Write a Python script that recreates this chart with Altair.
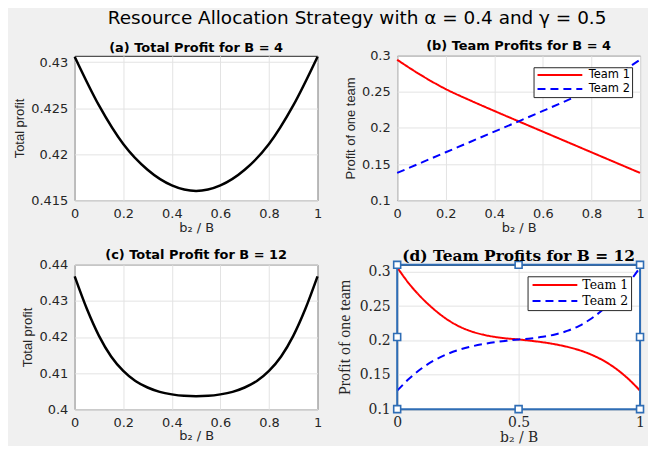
import altair as alt
import pandas as pd

# ---------------- data ----------------
x_coarse = [0.0, 0.1, 0.2, 0.3, 0.4, 0.5, 0.6, 0.7, 0.8, 0.9, 1.0]
total_b4 = [0.4306, 0.4253, 0.4211, 0.4183, 0.4166, 0.4160, 0.4166, 0.4183, 0.4211, 0.4253, 0.4306]
team1_b4 = [0.2945, 0.2728, 0.2539, 0.2383, 0.2236, 0.2092, 0.1949, 0.1806, 0.1663, 0.1520, 0.1377]
team2_b4 = [0.1377, 0.1520, 0.1663, 0.1806, 0.1949, 0.2092, 0.2236, 0.2383, 0.2539, 0.2728, 0.2945]

x_fine = [0.0, 0.05, 0.1, 0.15, 0.2, 0.25, 0.3, 0.35, 0.4, 0.45, 0.5,
          0.55, 0.6, 0.65, 0.7, 0.75, 0.8, 0.85, 0.9, 0.95, 1.0]
total_b12 = [0.4368, 0.4278, 0.4203, 0.4146, 0.4106, 0.4078, 0.4060, 0.4048, 0.4041, 0.4037, 0.4036,
             0.4037, 0.4041, 0.4048, 0.4060, 0.4078, 0.4106, 0.4146, 0.4203, 0.4278, 0.4368]
team1_b12 = [0.3062, 0.2821, 0.2623, 0.2457, 0.2319, 0.2213, 0.2138, 0.2087, 0.2052, 0.2029, 0.2014,
             0.1995, 0.1973, 0.1944, 0.1907, 0.1858, 0.1792, 0.1705, 0.1591, 0.1446, 0.1269]
team2_b12 = [0.1269, 0.1446, 0.1591, 0.1705, 0.1792, 0.1858, 0.1907, 0.1944, 0.1973, 0.1995, 0.2014,
             0.2029, 0.2052, 0.2087, 0.2138, 0.2213, 0.2319, 0.2457, 0.2623, 0.2821, 0.3062]

teams = ["Team 1", "Team 2"]
team_colors = ["#ff0000", "#0000ff"]

x_domain = [0, 1]
x_ticks = [0, 0.2, 0.4, 0.6, 0.8, 1]
x_ticks_d = [0, 0.5, 1]
y_domain_a = [0.415, 0.4307]
y_ticks_a = [0.415, 0.42, 0.425, 0.43]
y_domain_b = [0.1, 0.3]
y_ticks_b = [0.1, 0.15, 0.2, 0.25, 0.3]
y_domain_c = [0.4, 0.44]
y_ticks_c = [0.4, 0.41, 0.42, 0.43, 0.44]
y_domain_d = [0.1, 0.31]
y_ticks_d = [0.1, 0.15, 0.2, 0.25, 0.3]

# selection handles of panel (d): corners and edge midpoints (data coords)
handle_x = [0, 0.5, 1, 0, 1, 0, 0.5, 1]
handle_y = [0.31, 0.31, 0.31, 0.205, 0.205, 0.1, 0.1, 0.1]

# ---------------- styling ----------------
W, H = 244, 145
SANS = "DejaVu Sans"
SERIF = "DejaVu Serif"
INK = "#262626"
GRID = "#e3e3e3"
SEL = "#2f6db5"
NBSP = "\u00a0"


def x_axis(values, font, size, title_size, lpad, tpad):
    return alt.Axis(values=values, format="~g", title="b₂ / B", labelFont=font, labelFontSize=size,
                    titleFont=font, titleFontSize=title_size, titleFontWeight="normal",
                    labelPadding=lpad, titlePadding=tpad, grid=True, gridColor=GRID, ticks=False,
                    domain=False, labelColor=INK, titleColor=INK, labelFlush=False, labelOverlap=False)


def y_axis(values, title, font, size, tfont, tsize, lpad, tpad):
    return alt.Axis(values=values, format="~g", title=title, labelFont=font, labelFontSize=size,
                    titleFont=tfont, titleFontSize=tsize, titleFontWeight="normal",
                    labelPadding=lpad, titlePadding=tpad, grid=True, gridColor=GRID, ticks=False,
                    domain=False, labelColor=INK, titleColor=INK, labelFlush=False, labelOverlap=False)


def sub_title(text, font, size, dy):
    return alt.TitleParams(text=text, font=font, fontSize=size, fontWeight="bold", color="black",
                           anchor="middle", baseline="alphabetic", offset=5, dy=dy)


def team_legend(font, size, lx, ly, pad, rowpad, loff, extra):
    return alt.Legend(title=None, orient="none", legendX=lx, legendY=ly, direction="vertical",
                      fillColor="white", strokeColor=INK, padding=pad, symbolType="M-1,0H11",
                      symbolSize=56.25, symbolStrokeWidth=2, labelFont=font, labelFontSize=size,
                      labelOffset=loff, rowPadding=rowpad, labelColor="black", cornerRadius=0,
                      labelExpr="datum.label + '" + NBSP * extra + "'")


# ---------------- panel (a) ----------------
df_a = pd.DataFrame({"x": x_coarse, "y": total_b4})
panel_a = alt.Chart(df_a).mark_line(color="black", strokeWidth=2.5, interpolate="monotone").encode(
    x=alt.X("x:Q", scale=alt.Scale(domain=x_domain, nice=False), axis=x_axis(x_ticks, SANS, 13, 13, 7, 2)),
    y=alt.Y("y:Q", scale=alt.Scale(domain=y_domain_a, nice=False, zero=False),
            axis=y_axis(y_ticks_a, "Total profit", SANS, 13, "Liberation Sans", 13, 7, 4)),
).properties(width=W, height=H, title=sub_title("(a) Total Profit for B = 4", SANS, 13, 18))

# ---------------- panel (b) ----------------
df_b = pd.DataFrame({"x": x_coarse + x_coarse, "p": team1_b4 + team2_b4,
                     "team": [teams[0]] * len(x_coarse) + [teams[1]] * len(x_coarse)})
leg_b = team_legend(SANS, 11.5, 137, 11.5, 2, 1, 42, 5)
panel_b = alt.Chart(df_b).mark_line(strokeWidth=2, interpolate="monotone").encode(
    x=alt.X("x:Q", scale=alt.Scale(domain=x_domain, nice=False), axis=x_axis(x_ticks, SANS, 13, 13, 7, 2)),
    y=alt.Y("p:Q", scale=alt.Scale(domain=y_domain_b, nice=False, zero=False),
            axis=y_axis(y_ticks_b, "Profit of one team", SANS, 13, "Liberation Sans", 13, 7, 4)),
    color=alt.Color("team:N", scale=alt.Scale(domain=teams, range=team_colors), legend=leg_b),
    strokeDash=alt.StrokeDash("team:N", scale=alt.Scale(domain=teams, range=[[1, 0], [8, 5]]), legend=leg_b),
).properties(width=W, height=H, title=sub_title("(b) Team Profits for B = 4", SANS, 13, 18))

# ---------------- panel (c) ----------------
df_c = pd.DataFrame({"x": x_fine, "y": total_b12})
panel_c = alt.Chart(df_c).mark_line(color="black", strokeWidth=2.5, interpolate="monotone").encode(
    x=alt.X("x:Q", scale=alt.Scale(domain=x_domain, nice=False), axis=x_axis(x_ticks, SANS, 13, 13, 7, 1)),
    y=alt.Y("y:Q", scale=alt.Scale(domain=y_domain_c, nice=False, zero=False),
            axis=y_axis(y_ticks_c, "Total profit", SANS, 13, "Liberation Sans", 13, 7, 4)),
).properties(width=W, height=H, title=sub_title("(c) Total Profit for B = 12", SANS, 13, 18))

# ---------------- panel (d) ----------------
df_d = pd.DataFrame({"x": x_fine + x_fine, "p": team1_b12 + team2_b12,
                     "team": [teams[0]] * len(x_fine) + [teams[1]] * len(x_fine)})
xd_axis = x_axis(x_ticks_d, SERIF, 14, 14, 6, 1.5)
yd_axis = y_axis(y_ticks_d, "Profit of one team", SERIF, 14, "Liberation Serif", 16, 7, 7)
xd_scale = alt.Scale(domain=x_domain, nice=False)
yd_scale = alt.Scale(domain=y_domain_d, nice=False, zero=False)
leg_d = team_legend(SERIF, 12.5, 131, 11.5, 2.5, 3, 40, 0)

lines_d = alt.Chart(df_d).mark_line(strokeWidth=2, interpolate="monotone").encode(
    x=alt.X("x:Q", scale=xd_scale, axis=xd_axis),
    y=alt.Y("p:Q", scale=yd_scale, axis=yd_axis),
    color=alt.Color("team:N", scale=alt.Scale(domain=teams, range=team_colors), legend=leg_d),
    strokeDash=alt.StrokeDash("team:N", scale=alt.Scale(domain=teams, range=[[1, 0], [8, 5]]), legend=leg_d),
)
frame_df = pd.DataFrame({"x0": [x_domain[0]], "x1": [x_domain[1]], "y0": [y_domain_d[0]], "y1": [y_domain_d[1]]})
frame_d = alt.Chart(frame_df).mark_rect(fillOpacity=0, stroke=SEL, strokeWidth=2).encode(
    x=alt.X("x0:Q", scale=xd_scale, axis=xd_axis), x2="x1:Q",
    y=alt.Y("y0:Q", scale=yd_scale, axis=yd_axis), y2="y1:Q",
)
handles_df = pd.DataFrame({"hx": handle_x, "hy": handle_y})
handles_d = alt.Chart(handles_df).mark_square(size=49, fill="white", stroke=SEL, strokeWidth=1.6,
                                               opacity=1, fillOpacity=1).encode(
    x=alt.X("hx:Q", scale=xd_scale, axis=xd_axis),
    y=alt.Y("hy:Q", scale=yd_scale, axis=yd_axis),
)
panel_d = alt.layer(lines_d, frame_d, handles_d).properties(
    width=W, height=H, title=sub_title("(d) Team Profits for B = 12", SERIF, 15.5, 23))

# ---------------- assemble ----------------
chart = alt.concat(
    panel_a, panel_b, panel_c, panel_d, columns=2,
    spacing={"row": 65, "column": 80}, bounds="flush",
    title=alt.TitleParams(text="Resource Allocation Strategy with α = 0.4 and γ = 0.5", font=SANS,
                          fontSize=18.5, fontWeight="normal", color="black", anchor="middle",
                          offset=12, dx=27),
).resolve_scale(
    x="independent", y="independent", color="independent", strokeDash="independent"
).resolve_legend(
    color="independent", strokeDash="independent"
).configure(
    background="#f0f0f0", padding={"left": 5, "top": 0, "right": 0, "bottom": 0}
).configure_view(
    stroke=INK, strokeWidth=1, fill="white"
)

chart.save("out.html", embed_options={"renderer": "svg", "actions": False})
